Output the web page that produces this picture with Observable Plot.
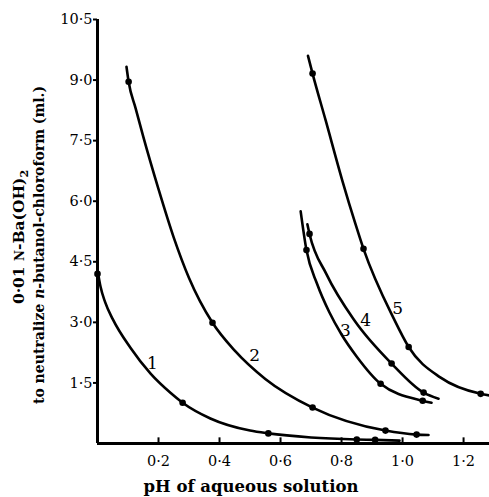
<!DOCTYPE html>
<html><head><meta charset="utf-8">
<script src="https://cdn.jsdelivr.net/npm/d3@7"></script>
<script src="https://cdn.jsdelivr.net/npm/@observablehq/plot@0.6"></script>
<style>body{margin:0;background:#fff} svg{display:block}</style>
</head><body><div id="chart"></div>
<script>
// traced curve paths (pH, ml)
const curve1X = [0, 0.01, 0.025, 0.05, 0.108, 0.174, 0.24, 0.279, 0.37, 0.50, 0.56, 0.70, 0.85, 0.91, 0.99];
const curve1Y = [4.3, 3.88, 3.5, 3.08, 2.37, 1.73, 1.25, 1.01, 0.62, 0.32, 0.25, 0.15, 0.10, 0.09, 0.07];
const curve2X = [0.095, 0.102, 0.125, 0.15, 0.20, 0.25, 0.30, 0.377, 0.45, 0.55, 0.705, 0.944, 1.046, 1.085];
const curve2Y = [9.33, 8.96, 8.3, 7.6, 6.3, 5.1, 4.1, 2.99, 2.3, 1.6, 0.89, 0.32, 0.22, 0.21];
const curve3X = [0.666, 0.685, 0.72, 0.76, 0.80, 0.85, 0.928, 1.066, 1.095];
const curve3Y = [5.75, 4.79, 3.95, 3.25, 2.7, 2.15, 1.48, 1.06, 1.01];
const curve4X = [0.688, 0.695, 0.75, 0.843, 0.964, 1.069, 1.118];
const curve4Y = [5.43, 5.19, 4.2, 3.04, 1.98, 1.26, 1.11];
const curve5X = [0.69, 0.705, 0.748, 0.803, 0.845, 0.872, 0.97, 1.02, 1.125, 1.256, 1.285];
const curve5Y = [9.6, 9.16, 8.0, 6.5, 5.45, 4.82, 3.11, 2.39, 1.63, 1.23, 1.19];

// observed points (filled dots)
const dots1X = [0, 0.279, 0.56, 0.85, 0.91];
const dots1Y = [4.2, 1.01, 0.25, 0.10, 0.09];
const dots2X = [0.102, 0.377, 0.705, 0.944, 1.046];
const dots2Y = [8.96, 2.99, 0.89, 0.32, 0.22];
const dots3X = [0.685, 0.928, 1.066];
const dots3Y = [4.79, 1.48, 1.06];
const dots4X = [0.695, 0.964, 1.069];
const dots4Y = [5.19, 1.98, 1.26];
const dots5X = [0.705, 0.872, 1.02, 1.256];
const dots5Y = [9.16, 4.82, 2.39, 1.23];

// curve labels
const curveNames = ["1", "2", "3", "4", "5"];
const curveLabelX = [0.18, 0.515, 0.813, 0.879, 0.984];
const curveLabelY = [1.98, 2.17, 2.79, 3.04, 3.33];

const xTicks = [0.2, 0.4, 0.6, 0.8, 1.0, 1.2];
const yTicks = [1.5, 3.0, 4.5, 6.0, 7.5, 9.0, 10.5];

const curvesX = [curve1X, curve2X, curve3X, curve4X, curve5X];
const curvesY = [curve1Y, curve2Y, curve3Y, curve4Y, curve5Y];
const dotsX = [dots1X, dots2X, dots3X, dots4X, dots5X];
const dotsY = [dots1Y, dots2Y, dots3Y, dots4Y, dots5Y];

const lineData = curvesX.flatMap((xs, i) => xs.map((x, j) => ({x, y: curvesY[i][j], id: curveNames[i]})));
const dotData = dotsX.flatMap((xs, i) => xs.map((x, j) => ({x, y: dotsY[i][j], id: curveNames[i]})));
const labelData = curveNames.map((n, i) => ({n, x: curveLabelX[i], y: curveLabelY[i]}));

const fmt = d => d3.format(".1f")(d).replace(".", "\u00b7");
const FONT = "DejaVu Serif";

const chart = Plot.plot({
  width: 489,
  height: 497,
  marginLeft: 97,
  marginRight: 0,
  marginTop: 19,
  marginBottom: 54,
  style: {fontFamily: FONT, fontSize: "14px", color: "#000", background: "#fff"},
  x: {domain: [0, 1.285]},
  y: {domain: [0, 10.5]},
  marks: [
    Plot.axisY(yTicks, {tickFormat: fmt, tickSize: 4, tickPadding: 1, strokeWidth: 2, label: null, fontSize: 14.5}),
    Plot.axisX(xTicks, {tickFormat: fmt, tickSize: 0, tickPadding: 12, label: null, fontSize: 14.5}),
    Plot.ruleX(xTicks, {y1: 0, y2: 0.14, strokeWidth: 2}),
    Plot.ruleX([0], {strokeWidth: 3}),
    Plot.ruleY([0], {strokeWidth: 3}),
    Plot.line(lineData, {x: "x", y: "y", z: "id", curve: "monotone-x", stroke: "#000", strokeWidth: 2.6}),
    Plot.dot(dotData, {x: "x", y: "y", r: 3.3, fill: "#000"}),
    Plot.text(labelData, {x: "x", y: "y", text: "n", fontSize: 17, fill: "#000"})
  ]
});
document.getElementById("chart").appendChild(chart);

const svg = d3.select(chart);
// y-axis title, two lines
const t1 = svg.append("text")
  .attr("transform", "translate(24,237) rotate(-90)")
  .attr("text-anchor", "middle")
  .attr("font-family", FONT).attr("font-weight", "bold").attr("font-size", 15.5).attr("fill", "#000");
t1.append("tspan").text("0\u00b701 ");
t1.append("tspan").attr("font-size", 12).text("N");
t1.append("tspan").text("-Ba(OH)");
t1.append("tspan").attr("font-size", 11).attr("dy", 4).text("2");

const t2 = svg.append("text")
  .attr("transform", "translate(44,245) rotate(-90)")
  .attr("text-anchor", "middle")
  .attr("font-family", FONT).attr("font-weight", "bold").attr("font-size", 14).attr("fill", "#000");
t2.append("tspan").text("to neutralize ");
t2.append("tspan").attr("font-style", "italic").text("n");
t2.append("tspan").text("-butanol-chloroform (ml.)");

svg.append("text")
  .attr("x", 251).attr("y", 492)
  .attr("text-anchor", "middle")
  .attr("font-family", FONT).attr("font-weight", "bold").attr("font-size", 16.5).attr("fill", "#000")
  .text("pH of aqueous solution");
</script>
</body></html>
